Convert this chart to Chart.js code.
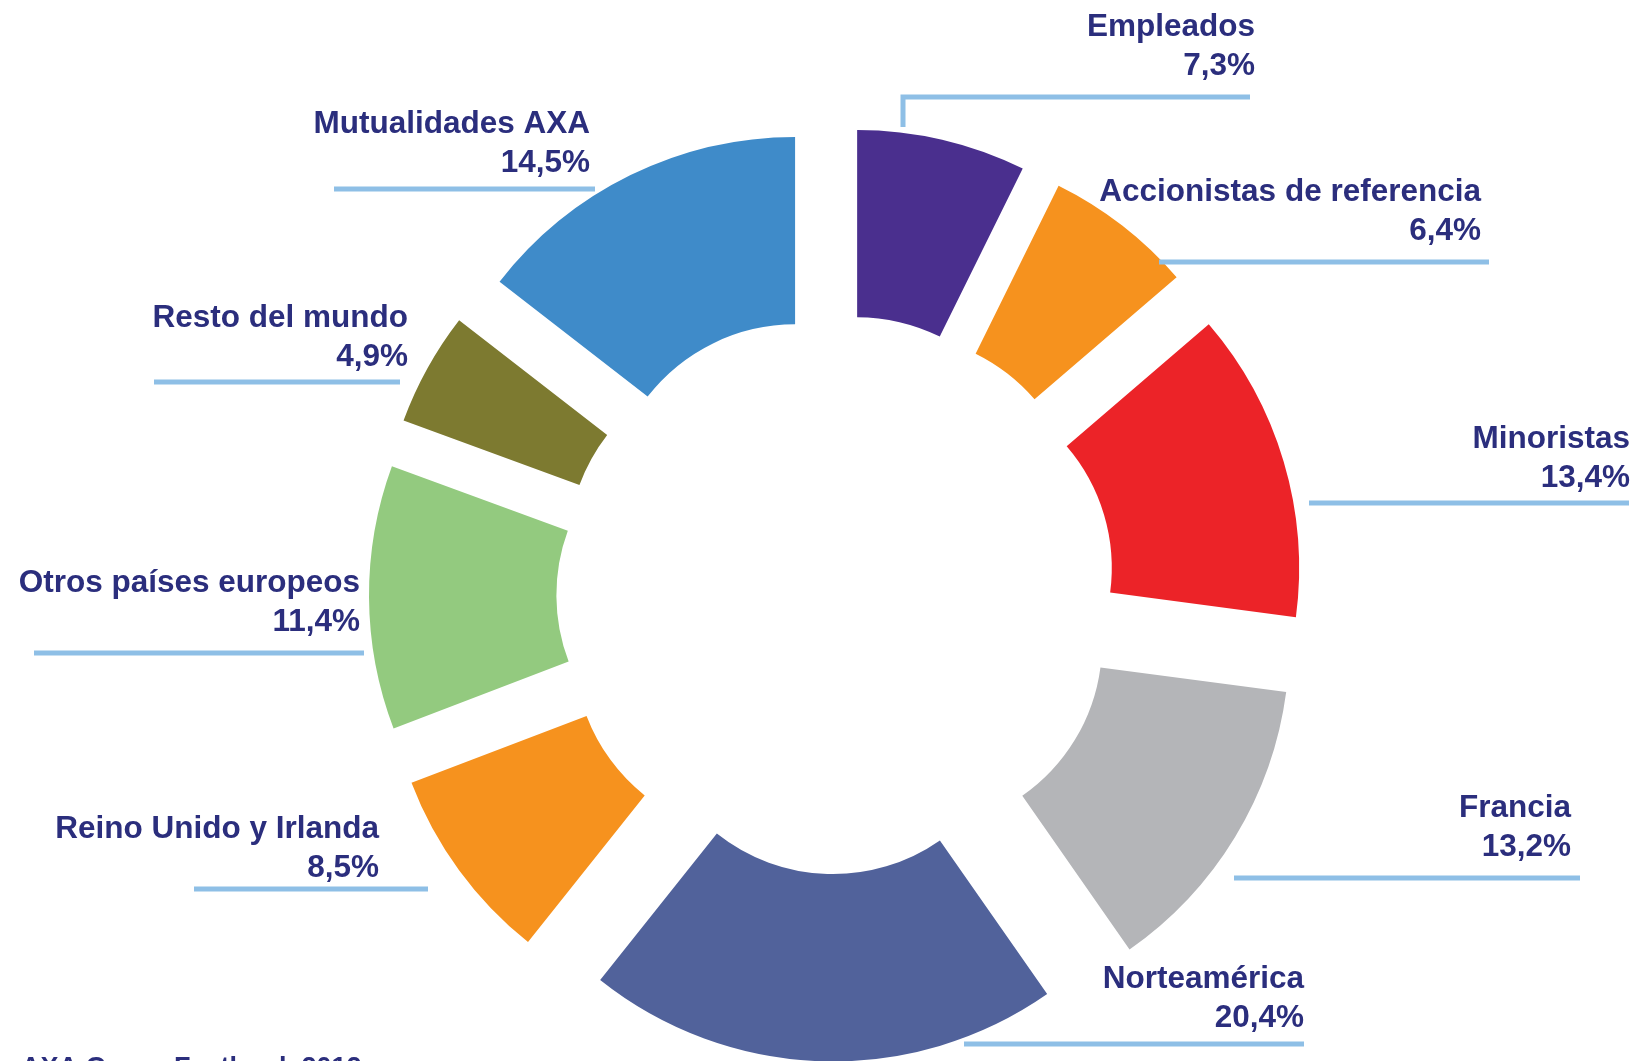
<!DOCTYPE html>
<html lang="es">
<head>
<meta charset="utf-8">
<title>Estructura del accionariado AXA</title>
<script src="https://cdn.jsdelivr.net/npm/chart.js@4.4.1/dist/chart.umd.min.js"></script>
<style>
    html, body { margin: 0; padding: 0; background: #ffffff; }
    #wrap { position: relative; width: 1639px; height: 1061px; overflow: hidden; }
</style>
</head>
<body>
<div id="wrap"><canvas id="chartAccionariado"></canvas></div>
<script>
    // datos
    const categorias = ['Empleados', 'Accionistas de referencia', 'Minoristas', 'Francia', 'Norteamérica',
        'Reino Unido y Irlanda', 'Otros países europeos', 'Resto del mundo', 'Mutualidades AXA'];
    const porcentajes = [7.3, 6.4, 13.4, 13.2, 20.4, 8.5, 11.4, 4.9, 14.5];
    const colores = ['#4a2f8e', '#f6921e', '#ec2328', '#b4b5b8', '#51629b', '#f6921e', '#93ca7f', '#7d7a30', '#3f8bc9'];
    const fuente = 'AXA Group Factbook 2012';

    // posición de las etiquetas: borde derecho del texto, línea base, y la raya azul (x1, x2, y)
    const etiquetas = [
        { tx: 1255, ty: 36,  x1: 903,  x2: 1250, ly: 97, tick: 127 },
        { tx: 1481, ty: 201, x1: 1159, x2: 1489, ly: 262 },
        { tx: 1630, ty: 448, x1: 1309, x2: 1629, ly: 503 },
        { tx: 1571, ty: 817, x1: 1234, x2: 1580, ly: 878 },
        { tx: 1304, ty: 988, x1: 964,  x2: 1304, ly: 1044 },
        { tx: 379,  ty: 838, x1: 194,  x2: 428,  ly: 889 },
        { tx: 360,  ty: 592, x1: 34,   x2: 364,  ly: 653 },
        { tx: 408,  ty: 327, x1: 154,  x2: 400,  ly: 382 },
        { tx: 590,  ty: 133, x1: 334,  x2: 595,  ly: 189 }
    ];

    const AZUL_TEXTO = '#2b2e7d';
    const AZUL_LINEA = '#8ebfe6';
    const SEPARACION = 93; // cada porción se desplaza hacia fuera

    // porciones "explotadas": se traslada cada arco a lo largo de su bisectriz
    const Arc = Chart.ArcElement || Chart.registry.getElement('arc');
    const dibujarArco = Arc.prototype.draw;
    Arc.prototype.draw = function (ctx) {
        const medio = (this.startAngle + this.endAngle) / 2;
        ctx.save();
        ctx.translate(Math.cos(medio) * SEPARACION, Math.sin(medio) * SEPARACION);
        dibujarArco.call(this, ctx);
        ctx.restore();
    };

    const etiquetasPlugin = {
        id: 'etiquetas',
        afterDatasetsDraw(chart) {
            const ctx = chart.ctx;
            ctx.save();
            ctx.strokeStyle = AZUL_LINEA;
            ctx.lineWidth = 5;
            ctx.lineCap = 'butt';
            etiquetas.forEach(e => {
                ctx.beginPath();
                if (e.tick) {
                    ctx.moveTo(e.x1, e.tick);
                    ctx.lineTo(e.x1, e.ly);
                }
                ctx.moveTo(e.x1 - (e.tick ? 2.5 : 0), e.ly);
                ctx.lineTo(e.x2, e.ly);
                ctx.stroke();
            });

            ctx.fillStyle = AZUL_TEXTO;
            ctx.font = 'bold 31.5px "Liberation Sans", Arial, sans-serif';
            ctx.textAlign = 'right';
            ctx.textBaseline = 'alphabetic';
            etiquetas.forEach((e, i) => {
                ctx.fillText(categorias[i], e.tx, e.ty);
                ctx.fillText(porcentajes[i].toFixed(1).replace('.', ',') + '%', e.tx, e.ty + 38.5);
            });

            ctx.textAlign = 'left';
            ctx.font = 'bold 27px "Liberation Sans", Arial, sans-serif';
            ctx.fillText(fuente, 21, 1076);
            ctx.restore();
        }
    };

    new Chart(document.getElementById('chartAccionariado').getContext('2d'), {
        type: 'doughnut',
        data: {
            labels: categorias,
            datasets: [{
                data: porcentajes,
                backgroundColor: colores,
                borderWidth: 0
            }]
        },
        options: {
            responsive: true,
            maintainAspectRatio: false,
            animation: false,
            radius: 374,
            cutout: '49.9%',
            layout: { padding: { left: 33, right: 0, top: 128, bottom: 0 } },
            plugins: {
                legend: { display: false },
                tooltip: { enabled: false },
                title: { display: false }
            }
        },
        plugins: [etiquetasPlugin]
    });
</script>
</body>
</html>
